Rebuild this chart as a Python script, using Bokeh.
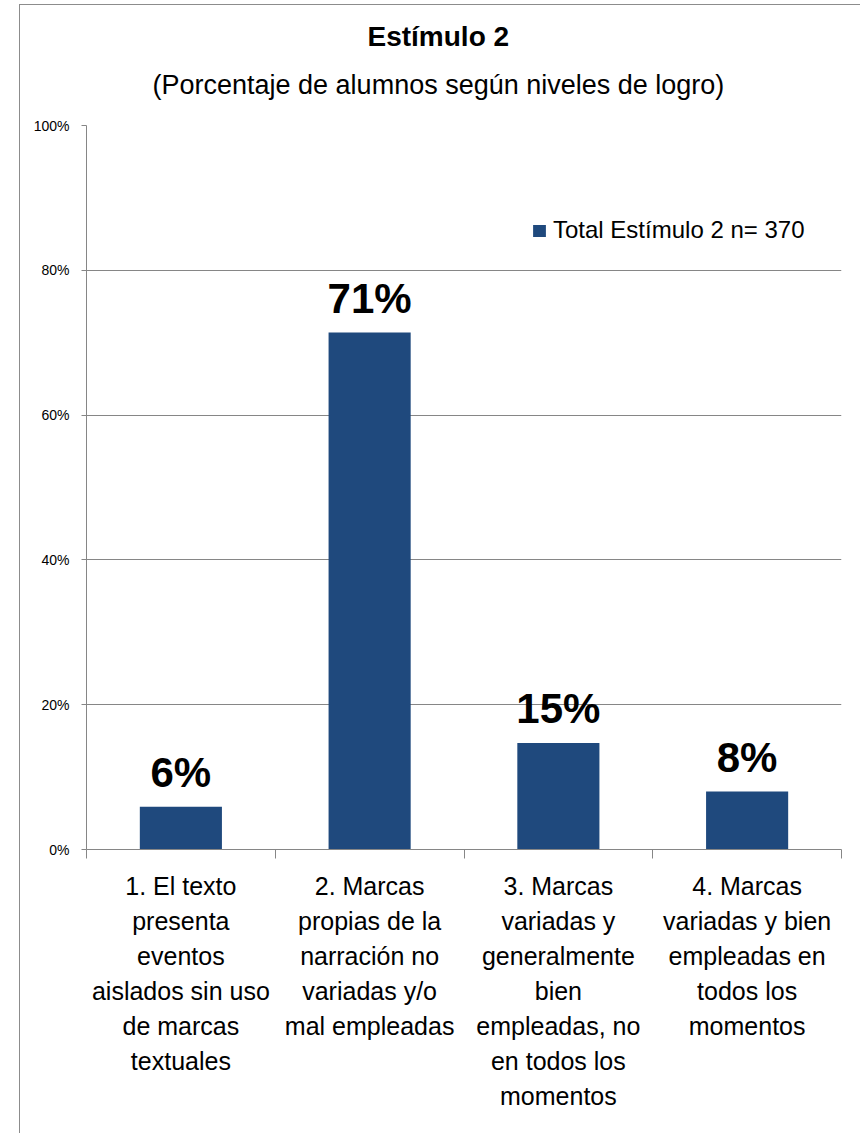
from bokeh.plotting import figure
from bokeh.models import (ColumnDataSource, LabelSet, Title, Legend, LegendItem, FixedTicker,
                          PrintfTickFormatter, Range1d, LinearAxis)
from bokeh.core.properties import value
from bokeh.embed import file_html
from bokeh.resources import INLINE

title = "Estímulo 2"
subtitle = "(Porcentaje de alumnos según niveles de logro)"
series_name = "Total Estímulo 2 n= 370"
categories = [
    "1. El texto\npresenta\neventos\naislados sin uso\nde marcas\ntextuales",
    "2. Marcas\npropias de la\nnarración no\nvariadas y/o\nmal empleadas",
    "3. Marcas\nvariadas y\ngeneralmente\nbien\nempleadas, no\nen todos los\nmomentos",
    "4. Marcas\nvariadas y bien\nempleadas en\ntodos los\nmomentos",
]
values = [5.9, 71.4, 14.7, 8.0]
value_labels = ["6%", "71%", "15%", "8%"]
y_ticks = [0, 20, 40, 60, 80, 100]

FONT = "Liberation Sans"
BAR = "#1F497D"
GRID = "#868686"
BORDER = "#8c8c8c"

n = len(categories)
centers = [i + 0.5 for i in range(n)]
src = ColumnDataSource(dict(x=centers, val=values, lab=value_labels))

p = figure(x_range=Range1d(0, n), y_range=Range1d(0, 100), title=None,
           width=860, height=1133, output_backend="svg", toolbar_location=None,
           x_axis_location=None, min_border_left=86, min_border_right=19,
           min_border_top=125, min_border_bottom=284,
           styles={"background": f"linear-gradient({BORDER},{BORDER}) 19px 4px / 1px 100% no-repeat, "
                                 f"linear-gradient({BORDER},{BORDER}) 19px 4px / 100% 1px no-repeat, white"})
p.border_fill_color = None
p.background_fill_color = "white"
p.outline_line_color = None
p.xgrid.grid_line_color = None
p.ygrid.grid_line_color = GRID
p.ygrid.ticker = FixedTicker(ticks=y_ticks)

r = p.vbar(x="x", top="val", width=0.435, source=src, fill_color=BAR, line_color=None)

# y axis
ya = p.yaxis[0]
ya.ticker = FixedTicker(ticks=y_ticks)
ya.formatter = PrintfTickFormatter(format="%d%%")
ya.axis_line_color = GRID
ya.major_tick_line_color = GRID
ya.major_tick_out = 5
ya.major_tick_in = 0
ya.minor_tick_line_color = None
ya.major_label_text_font = FONT
ya.major_label_text_font_size = "14px"
ya.major_label_text_color = "#000000"
ya.major_label_standoff = 12

# boundary ticks axis (between categories)
ta = LinearAxis(ticker=FixedTicker(ticks=list(range(n + 1))),
                major_label_overrides={i: "" for i in range(n + 1)})
ta.axis_line_color = GRID
ta.major_tick_line_color = GRID
ta.major_tick_out = 9
ta.major_tick_in = 0
ta.minor_tick_line_color = None
ta.major_label_standoff = 0
p.add_layout(ta, "below")

# category labels axis
ca = LinearAxis(ticker=FixedTicker(ticks=centers),
                major_label_overrides={c: lab for c, lab in zip(centers, categories)})
ca.axis_line_color = None
ca.major_tick_line_color = None
ca.minor_tick_line_color = None
ca.major_label_text_font = FONT
ca.major_label_text_font_size = "25px"
ca.major_label_text_color = "#000000"
ca.major_label_text_line_height = 1.25
ca.major_label_standoff = 7
ca.major_label_orientation = "horizontal"
p.add_layout(ca, "below")

# value labels
p.add_layout(LabelSet(x="x", y="val", text="lab", source=src, y_offset=20,
                      text_align="center", text_baseline="alphabetic",
                      text_font=value(FONT), text_font_style="bold", text_font_size="42px",
                      text_color="#000000"))

# titles
sub = Title(text=subtitle, align="left", offset=66, text_font=FONT, text_font_style="normal",
            text_font_size="27px", text_color="#000000", standoff=52)
main = Title(text=title, align="left", offset=281, text_font=FONT, text_font_style="bold",
             text_font_size="28px", text_color="#000000", standoff=-20)
p.add_layout(sub, "above")
p.add_layout(main, "above")

legend = Legend(items=[LegendItem(label=series_name, renderers=[r])], location=(445, 605),
                glyph_width=16, glyph_height=15, label_text_font=FONT,
                label_text_font_size="24px", label_text_color="#000000",
                border_line_color=None, background_fill_alpha=0, padding=0, margin=0,
                label_standoff=6)
p.add_layout(legend)

open("out.html", "w").write(file_html(p, INLINE))
